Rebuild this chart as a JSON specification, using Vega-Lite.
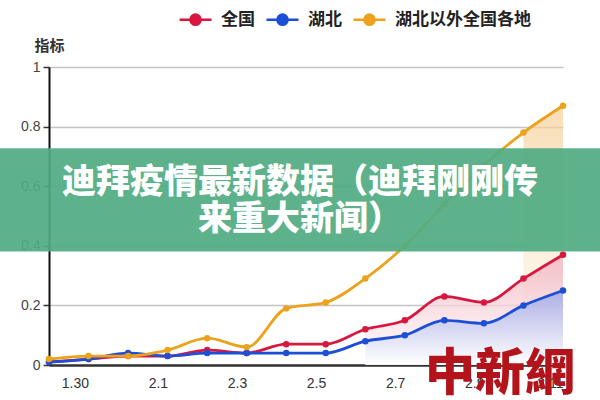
{
  "$schema": "https://vega.github.io/schema/vega-lite/v6.json",
  "width": 514,
  "height": 298,
  "autosize": {"type": "none"},
  "padding": {"left": 49, "top": 67, "right": 37, "bottom": 35},
  "background": "white",
  "config": {"view": {"stroke": null}, "font": "Liberation Sans"},
  "datasets": {
    "main": [
      {"date": "1.29", "idx": 0, "series": "全国", "value": 0.01},
      {"date": "1.30", "idx": 1, "series": "全国", "value": 0.02},
      {"date": "1.31", "idx": 2, "series": "全国", "value": 0.03},
      {"date": "2.1", "idx": 3, "series": "全国", "value": 0.03},
      {"date": "2.2", "idx": 4, "series": "全国", "value": 0.05},
      {"date": "2.3", "idx": 5, "series": "全国", "value": 0.04},
      {"date": "2.4", "idx": 6, "series": "全国", "value": 0.07},
      {"date": "2.5", "idx": 7, "series": "全国", "value": 0.07},
      {"date": "2.6", "idx": 8, "series": "全国", "value": 0.12},
      {"date": "2.7", "idx": 9, "series": "全国", "value": 0.15},
      {"date": "2.8", "idx": 10, "series": "全国", "value": 0.23},
      {"date": "2.9", "idx": 11, "series": "全国", "value": 0.21},
      {"date": "2.10", "idx": 12, "series": "全国", "value": 0.29},
      {"date": "2.11", "idx": 13, "series": "全国", "value": 0.37},
      {"date": "1.29", "idx": 0, "series": "湖北", "value": 0.01},
      {"date": "1.30", "idx": 1, "series": "湖北", "value": 0.02},
      {"date": "1.31", "idx": 2, "series": "湖北", "value": 0.04},
      {"date": "2.1", "idx": 3, "series": "湖北", "value": 0.03},
      {"date": "2.2", "idx": 4, "series": "湖北", "value": 0.04},
      {"date": "2.3", "idx": 5, "series": "湖北", "value": 0.04},
      {"date": "2.4", "idx": 6, "series": "湖北", "value": 0.04},
      {"date": "2.5", "idx": 7, "series": "湖北", "value": 0.04},
      {"date": "2.6", "idx": 8, "series": "湖北", "value": 0.08},
      {"date": "2.7", "idx": 9, "series": "湖北", "value": 0.10},
      {"date": "2.8", "idx": 10, "series": "湖北", "value": 0.15},
      {"date": "2.9", "idx": 11, "series": "湖北", "value": 0.14},
      {"date": "2.10", "idx": 12, "series": "湖北", "value": 0.20},
      {"date": "2.11", "idx": 13, "series": "湖北", "value": 0.25},
      {"date": "1.29", "idx": 0, "series": "湖北以外全国各地", "value": 0.02},
      {"date": "1.30", "idx": 1, "series": "湖北以外全国各地", "value": 0.03},
      {"date": "1.31", "idx": 2, "series": "湖北以外全国各地", "value": 0.03},
      {"date": "2.1", "idx": 3, "series": "湖北以外全国各地", "value": 0.05},
      {"date": "2.2", "idx": 4, "series": "湖北以外全国各地", "value": 0.09},
      {"date": "2.3", "idx": 5, "series": "湖北以外全国各地", "value": 0.06},
      {"date": "2.4", "idx": 6, "series": "湖北以外全国各地", "value": 0.19},
      {"date": "2.5", "idx": 7, "series": "湖北以外全国各地", "value": 0.21},
      {"date": "2.6", "idx": 8, "series": "湖北以外全国各地", "value": 0.29},
      {"date": "2.7", "idx": 9, "series": "湖北以外全国各地", "value": 0.40},
      {"date": "2.8", "idx": 10, "series": "湖北以外全国各地", "value": 0.54},
      {"date": "2.9", "idx": 11, "series": "湖北以外全国各地", "value": 0.67},
      {"date": "2.10", "idx": 12, "series": "湖北以外全国各地", "value": 0.78},
      {"date": "2.11", "idx": 13, "series": "湖北以外全国各地", "value": 0.87}
    ],
    "labels": [
      {"line1": "迪拜疫情最新数据（迪拜刚刚传", "line2": "来重大新闻）", "logo": "中新網"}
    ]
  },
  "layer": [
    {
      "data": {"name": "main"},
      "transform": [{"filter": "datum.idx >= 12 && datum.series == '湖北以外全国各地'"}],
      "mark": {"type": "area", "interpolate": "monotone", "opacity": 0.7,
        "fill": {"gradient": "linear", "x1": 0, "y1": 0, "x2": 0, "y2": 1,
          "stops": [{"offset": 0, "color": "#f6cf96"}, {"offset": 1, "color": "#ffffff"}]}},
      "encoding": {
        "x": {"field": "date", "type": "ordinal"},
        "y": {"field": "value", "type": "quantitative"}
      }
    },
    {
      "data": {"name": "main"},
      "transform": [{"filter": "datum.idx >= 8 && datum.series == '全国'"}],
      "mark": {"type": "area", "interpolate": "monotone", "opacity": 0.75,
        "fill": {"gradient": "linear", "x1": 0, "y1": 0, "x2": 0, "y2": 1,
          "stops": [{"offset": 0, "color": "#f0aebb"}, {"offset": 1, "color": "#ffffff"}]}},
      "encoding": {
        "x": {"field": "date", "type": "ordinal"},
        "y": {"field": "value", "type": "quantitative"}
      }
    },
    {
      "data": {"name": "main"},
      "transform": [{"filter": "datum.idx >= 8 && datum.series == '湖北'"}],
      "mark": {"type": "area", "interpolate": "monotone", "opacity": 0.75,
        "fill": {"gradient": "linear", "x1": 0, "y1": 0, "x2": 0, "y2": 1,
          "stops": [{"offset": 0, "color": "#93a2e8"}, {"offset": 1, "color": "#ffffff"}]}},
      "encoding": {
        "x": {"field": "date", "type": "ordinal"},
        "y": {"field": "value", "type": "quantitative"}
      }
    },
    {
      "data": {"name": "main"},
      "mark": {"type": "line", "interpolate": "monotone", "strokeWidth": 2.8},
      "encoding": {
        "x": {
          "field": "date", "type": "ordinal",
          "scale": {"type": "point", "padding": 0,
            "domain": ["1.29","1.30","1.31","2.1","2.2","2.3","2.4","2.5","2.6","2.7","2.8","2.9","2.10","2.11"]},
          "axis": {
            "title": null, "values": ["1.30","2.1","2.3","2.5","2.7","2.9","2.11"],
            "ticks": false, "labelAngle": 0, "labelPadding": 18, "labelFontSize": 14,
            "labelColor": "#333", "domainColor": "#333", "domainWidth": 2.5, "grid": false
          }
        },
        "y": {
          "field": "value", "type": "quantitative",
          "scale": {"domain": [0, 1], "nice": false},
          "axis": {
            "values": [0, 0.2, 0.4, 0.6, 0.8, 1], "format": "~f",
            "title": "指标", "titleAngle": 0, "titleAlign": "left", "titleBaseline": "middle",
            "titleX": -15, "titleY": -22, "titleFontSize": 15, "titleFont": "Noto Sans CJK SC",
            "titleFontWeight": "bold", "titleColor": "#333",
            "labelFontSize": 14, "labelColor": "#444", "labelPadding": 3,
            "tickSize": 6, "tickColor": "#333", "tickWidth": 1.5,
            "domainColor": "#111", "domainWidth": 2,
            "grid": true, "gridColor": "#c4c4c4", "gridWidth": 1.5
          }
        },
        "color": {
          "field": "series", "type": "nominal",
          "scale": {"domain": ["全国", "湖北", "湖北以外全国各地"], "range": ["#d8173f", "#1c4fd6", "#eca21c"]},
          "legend": {
            "title": null, "orient": "none", "direction": "horizontal",
            "legendX": 129, "legendY": -65,
            "symbolType": "M -1,0 L 1,0 M -0.32,0 A 0.32,0.32 0 1,1 0.32,0 A 0.32,0.32 0 1,1 -0.32,0 Z",
            "symbolSize": 1024, "symbolStrokeWidth": 2.5, "symbolOffset": 0,
            "labelFontSize": 17, "labelFont": "Noto Sans CJK SC", "labelFontWeight": "bold",
            "labelColor": "#222", "labelOffset": 8, "columnPadding": 6,
            "encode": {"symbols": {"update": {"fill": {"scale": "color", "field": "value"}, "fillOpacity": {"value": 1}}}}
          }
        }
      }
    },
    {
      "data": {"name": "main"},
      "mark": {"type": "point", "filled": true, "size": 42, "opacity": 1},
      "encoding": {
        "x": {"field": "date", "type": "ordinal"},
        "y": {"field": "value", "type": "quantitative"},
        "color": {"field": "series", "type": "nominal", "legend": null}
      }
    },
    {
      "data": {"name": "labels"},
      "mark": {"type": "rect", "fill": "#4fab82", "opacity": 0.92},
      "encoding": {
        "x": {"value": -49},
        "x2": {"value": 551},
        "y": {"datum": 0.727, "type": "quantitative"},
        "y2": {"datum": 0.381}
      }
    },
    {
      "data": {"name": "labels"},
      "mark": {"type": "text", "color": "white", "font": "Noto Sans CJK SC", "fontWeight": 900,
        "fontSize": 34, "align": "center", "baseline": "middle"},
      "encoding": {
        "x": {"value": 251},
        "y": {"datum": 0.61, "type": "quantitative"},
        "text": {"field": "line1"}
      }
    },
    {
      "data": {"name": "labels"},
      "mark": {"type": "text", "color": "white", "font": "Noto Sans CJK SC", "fontWeight": 900,
        "fontSize": 34, "align": "center", "baseline": "middle"},
      "encoding": {
        "x": {"value": 251},
        "y": {"datum": 0.487, "type": "quantitative"},
        "text": {"field": "line2"}
      }
    },
    {
      "data": {"name": "labels"},
      "mark": {"type": "text", "color": "#b3141c", "font": "Noto Sans CJK TC", "fontWeight": 900,
        "fontSize": 50, "align": "center", "baseline": "middle"},
      "encoding": {
        "x": {"value": 451},
        "y": {"datum": -0.035, "type": "quantitative"},
        "text": {"field": "logo"}
      }
    }
  ]
}
